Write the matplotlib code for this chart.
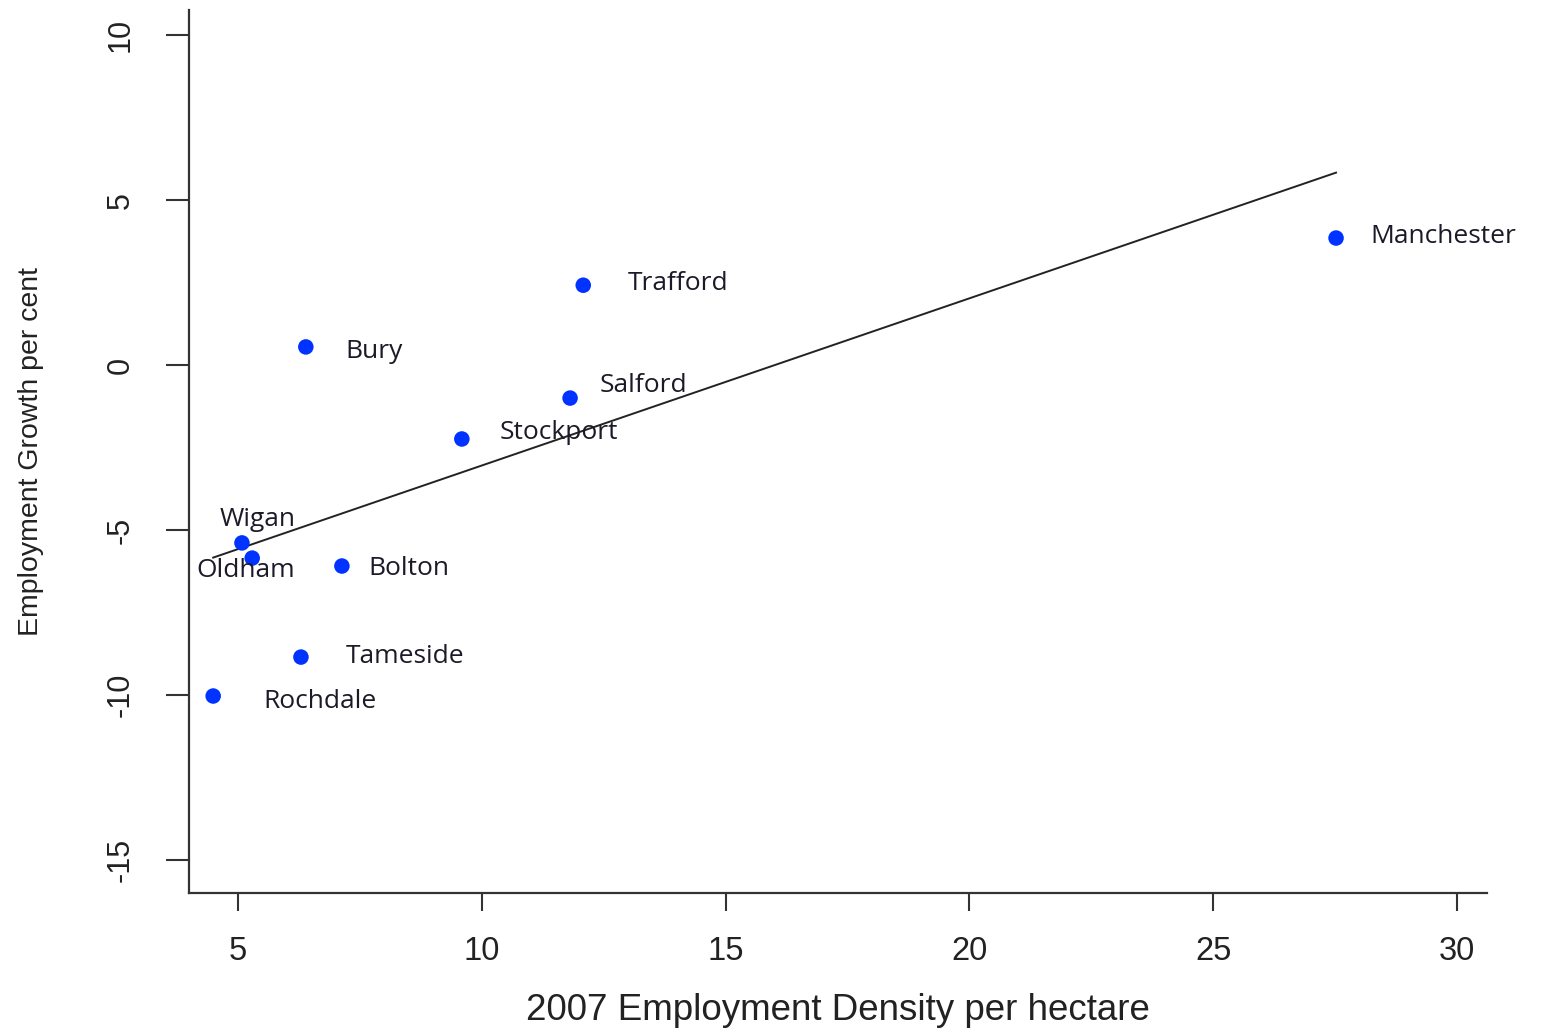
import numpy as np
import matplotlib
matplotlib.use("Agg")
import matplotlib.pyplot as plt

# Greater Manchester districts
districts=["Manchester","Trafford","Bury","Salford","Stockport",
           "Wigan","Oldham","Bolton","Tameside","Rochdale"]
density=[27.52,12.08,6.39,11.81,9.59,5.08,5.29,7.13,6.29,4.49]
growth=[3.85,2.42,0.55,-1.00,-2.24,-5.39,-5.85,-6.09,-8.85,-10.03]
xticks=[5,10,15,20,25,30]
yticks=[-15,-10,-5,0,5,10]

# label offsets in pixels (dx, dy) from each point
offsets={"Manchester":(34,2),"Trafford":(45,2),"Bury":(40,-5),
         "Salford":(30,13),"Stockport":(38,6),"Wigan":(-22,23),
         "Oldham":(-56,-12),"Bolton":(26,-2),"Tameside":(45,1),
         "Rochdale":(50,-5)}

x=np.array(density)
y=np.array(growth)
slope,icpt=np.polyfit(x,y,1)

fig=plt.figure(figsize=(15.42,10.35),dpi=100)
ax=fig.add_axes([0.1226,0.1372,0.8417,0.8531])

xs=np.array([x.min(),x.max()])
ax.plot(xs,icpt+slope*xs,color="#222222",lw=1.4,zorder=2)
ax.scatter(x,y,s=125,color="#0033ff",edgecolors="none",zorder=3)

for name,xi,yi in zip(districts,density,growth):
    dx,dy=offsets[name]
    ax.annotate(name,(xi,yi),xytext=(dx,dy),textcoords="offset pixels",
                ha="left",va="center",fontsize=19,family="Open Sans",
                color="#1c1a28",zorder=4)

ax.set_xlim(3.995,30.615)
ax.set_ylim(-16.0,10.76)
ax.set_xticks(xticks)
ax.set_yticks(yticks)
ax.set_xticklabels([str(t) for t in xticks],fontsize=23.5,family="Liberation Sans",color="#222222")
ax.set_yticklabels([str(t) for t in yticks],fontsize=22,family="Liberation Sans",
                   rotation=90,va="center",color="#222222")
ax.tick_params(axis="x",length=13,width=1.5,pad=18,colors="#333333",labelcolor="#222222")
ax.tick_params(axis="y",length=16.5,width=1.5,pad=22,colors="#333333",labelcolor="#222222")

for s in ["top","right"]:
    ax.spines[s].set_visible(False)
for s in ["left","bottom"]:
    ax.spines[s].set_linewidth(1.6)
    ax.spines[s].set_color("#333333")

ax.set_xlabel("2007 Employment Density per hectare",fontsize=26.5,
              family="Liberation Sans",color="#222222",labelpad=19)
ax.set_ylabel("Employment Growth per cent",fontsize=20.5,
              family="Liberation Sans",color="#222222",labelpad=44)

fig.savefig("out.png",dpi=100)
